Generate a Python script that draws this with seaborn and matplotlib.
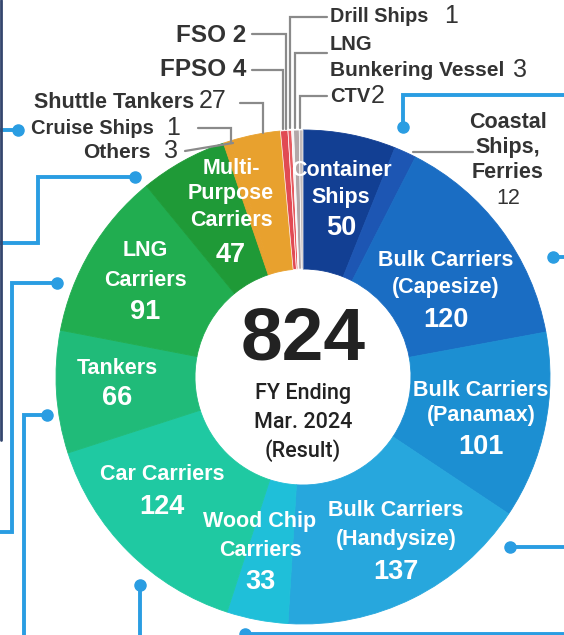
import matplotlib
matplotlib.use("Agg")
import matplotlib.pyplot as plt
import seaborn as sns

# fleet data, clockwise from 12 o'clock
categories = ["Container Ships", "Coastal Ships, Ferries", "Bulk Carriers (Capesize)",
              "Bulk Carriers (Panamax)", "Bulk Carriers (Handysize)", "Wood Chip Carriers",
              "Car Carriers", "Tankers", "LNG Carriers", "Multi-Purpose Carriers",
              "Others", "Cruise Ships", "Shuttle Tankers", "FPSO", "FSO",
              "Drill Ships", "LNG Bunkering Vessel", "CTV"]
counts = [50, 12, 120, 101, 137, 33, 124, 66, 91, 47, 3, 1, 27, 4, 2, 1, 3, 2]
colors = ["#123f93", "#1d56b3", "#1a6dc3", "#1c8fd2", "#27a7dd", "#1fbfd9",
          "#1fc9a2", "#20bb79", "#21ad50", "#1f9a37",
          "#e8a12e", "#e8a12e", "#e8a12e", "#e14a53", "#e65a60",
          "#f4f0f0", "#b3a7a8", "#c4bcbc"]
total = sum(counts)

W, H = 564, 635
sns.set_style("white")
plt.rcParams["font.family"] = ["Liberation Sans", "DejaVu Sans"]

fig = plt.figure(figsize=(W / 100, H / 100), dpi=100)
ax = fig.add_axes([0, 0, 1, 1])


def Y(y):
    return H - y


wedges, _ = ax.pie(counts, colors=colors, startangle=90, counterclock=False,
                   radius=247, center=(303, Y(377)),
                   wedgeprops=dict(width=139))
for w, c in zip(wedges, colors):
    w.set_edgecolor(c)
    w.set_linewidth(0.6)
for w in wedges[-5:]:
    w.set_edgecolor("white")
    w.set_linewidth(0.5)

ax.set_xlim(0, W)
ax.set_ylim(0, H)
ax.set_aspect("auto")
ax.axis("off")

# labels inside the ring (white)
inner = [
    (["Container", "Ships"], "50", 341, [170, 197], 228),
    (["Bulk Carriers", "(Capesize)"], "120", 446, [260, 288], 320),
    (["Bulk Carriers", "(Panamax)"], "101", 481, [390, 415], 447),
    (["Bulk Carriers", "(Handysize)"], "137", 396, [511, 540], 572),
    (["Wood Chip", "Carriers"], "33", 260, [522, 550], 582),
    (["Car Carriers"], "124", 162, [475], 507),
    (["Tankers"], "66", 117, [368], 398),
    (["LNG", "Carriers"], "91", 145, [250, 280], 312),
    (["Multi-", "Purpose", "Carriers"], "47", 231, [168, 194, 221], 255),
]
for names, num, x, ys, ny in inner:
    for name, y in zip(names, ys):
        ax.text(x, Y(y), name, color="white", fontsize=15.5, fontweight="bold",
                ha="center", va="center")
    ax.text(x, Y(ny), num, color="white", fontsize=19.5, fontweight="bold",
            ha="center", va="center")

# centre
ax.text(303, Y(340), str(total), fontsize=54, fontweight="bold", color="#222222",
        ha="center", va="center")
for t, y in [("FY Ending", 394), ("Mar. 2024", 422), ("(Result)", 451)]:
    ax.text(303, Y(y), t, fontsize=15.5, fontweight="medium", color="#222222",
            family=["Roboto", "Liberation Sans"], ha="center", va="center")

# outside labels
dark = "#333333"
grey = "#8a8a8a"
ax.text(330, Y(17), "Drill Ships", fontsize=14.3, fontweight="bold", color=dark, va="center")
ax.text(444, Y(16), "1", fontsize=18, color=dark, va="center")
ax.text(330, Y(45), "LNG", fontsize=14.5, fontweight="bold", color=dark, va="center")
ax.text(330, Y(71), "Bunkering Vessel", fontsize=15, fontweight="bold", color=dark, va="center")
ax.text(513, Y(70), "3", fontsize=18, color=dark, va="center")
ax.text(330, Y(97), "CTV", fontsize=14.5, fontweight="bold", color=dark, va="center")
ax.text(371, Y(96), "2", fontsize=18, color=dark, va="center")

ax.text(246, Y(35), "FSO 2", fontsize=17.5, fontweight="bold", color=dark, ha="right", va="center")
ax.text(246, Y(70), "FPSO 4", fontsize=17.5, fontweight="bold", color=dark, ha="right", va="center")
ax.text(194, Y(102), "Shuttle Tankers", fontsize=15.5, fontweight="bold", color=dark, ha="right", va="center")
ax.text(199, Y(101), "27", fontsize=18, color=dark, va="center")
ax.text(154, Y(129), "Cruise Ships", fontsize=14.5, fontweight="bold", color=dark, ha="right", va="center")
ax.text(166, Y(128), "1", fontsize=18, color=dark, va="center")
ax.text(151, Y(152), "Others", fontsize=15, fontweight="bold", color=dark, ha="right", va="center")
ax.text(164, Y(151), "3", fontsize=18, color=dark, va="center")

for t, y in [("Coastal", 123), ("Ships,", 148), ("Ferries", 172)]:
    ax.text(508, Y(y), t, fontsize=15.5, fontweight="bold", color=dark, ha="center", va="center")
ax.text(508, Y(199), "12", fontsize=15.5, color=dark, ha="center", va="center")

# leader lines
leaders = [
    ([327, 290, 290], [17, 17, 128]),
    ([327, 295, 295], [53, 53, 128]),
    ([327, 300, 300], [96, 96, 128]),
    ([252, 286, 286], [34, 34, 129]),
    ([252, 283, 283], [70, 70, 129]),
    ([240, 263, 263], [103, 103, 133]),
    ([198, 231, 231], [128, 128, 143]),
    ([185, 233], [151, 143]),
    ([413, 473], [152, 152]),
]
for xs, ys in leaders:
    ax.plot(xs, [Y(v) for v in ys], color=grey, lw=1.6, solid_joinstyle="miter")

# blue connector lines
blue = "#2a9de2"
connectors = [
    ([0, 18], [130, 130], (18, 130)),
    ([135, 38, 38, 0], [177, 177, 243, 243], (135, 177)),
    ([57, 12, 12, 0], [283, 283, 532, 532], (57, 283)),
    ([47, 24, 24], [415, 415, 640], (47, 415)),
    ([140, 140], [585, 640], (140, 585)),
    ([245, 564], [634, 634], (245, 634)),
    ([553, 570], [257, 257], (553, 257)),
    ([510, 570], [547, 547], (510, 547)),
    ([403, 403, 570], [127, 95, 95], (403, 127)),
]
for xs, ys, dot in connectors:
    ax.plot(xs, [Y(v) for v in ys], color=blue, lw=2.8, solid_joinstyle="miter")
    ax.plot(dot[0], Y(dot[1]), "o", color=blue, ms=8)

# dark frame edge on the left
ax.plot([1, 1], [Y(0), Y(440)], color="#34466e", lw=2)

fig.savefig("out.png", dpi=100)
